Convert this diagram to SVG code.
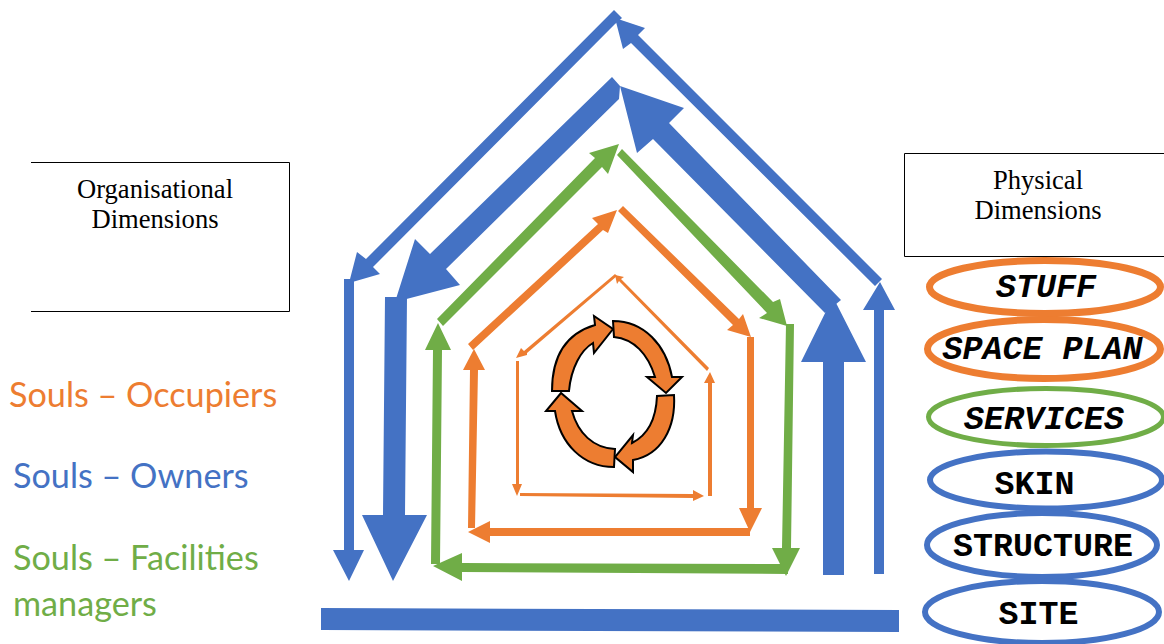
<svg xmlns="http://www.w3.org/2000/svg" width="1164" height="644" viewBox="0 0 1164 644">
<style>
.o{fill:#ed7d31}.b{fill:#4472c4}.g{fill:#70ad47}
.e{fill:none}
.t{font-family:"Liberation Serif",serif;font-size:26.6px;fill:#000;text-anchor:middle}
.m{font-family:"Liberation Mono",monospace;font-size:33.3px;font-weight:bold;fill:#000;text-anchor:middle}
.s{font-family:Lato,"Open Sans",sans-serif;font-size:34.2px}
.box{fill:none;stroke:#000;stroke-width:1}
.ring{fill:#ed7d31;stroke:#000;stroke-width:2}
</style>
<g id="connectors">
<!-- outer blue -->
<polygon class="b" points="614,10 622,18 615,24 373,267 380,274 349,283 357,252 366,259"/>
<polygon class="b" points="615,18 645,28 638,35 882,279 875,286 631,43 623,49"/>
<polygon class="b" points="344,279 354,279 354,550 364,550 349,581 333,550 344,550"/>
<polygon class="b" points="880,282 895,310 884,310 884,574 874,574 874,310 863,310"/>
<!-- thick blue -->
<polygon class="b" points="612,77 620,86 619,99 446,269 460,285 395,302 415,239 430,254"/>
<polygon class="b" points="620,86 684,108 669,123 841,300 825,313 653,139 637,153"/>
<polygon class="b" points="385,297 407,297 405,515 427,515 393,581 362,515 383,515"/>
<polygon class="b" points="833,297 866,362 844,362 844,575 823,575 823,362 801,362"/>
<!-- green -->
<polygon class="g" points="619,144 608,174 602,167 443,326 437,319 595,158 589,153"/>
<polygon class="g" points="622,149 773,302 780,299 787,326 759,318 767,313 617,155"/>
<polygon class="g" points="786,324 794,324 791,548 800,548 786,576 772,548 782,548"/>
<polygon class="g" points="438,323 451,350 442,350 440,564 431,564 433,350 425,350"/>
<polygon class="g" points="433,566 462,553 462,563 788,564 788,574 462,572 462,581"/>
<!-- orange mid -->
<polygon class="o" points="617,210 608,233 603,230 473,350 468,344 598,224 592,218"/>
<polygon class="o" points="623,206 739,319 743,314 751,337 727,330 733,325 618,211"/>
<polygon class="o" points="747,337 754,337 754,508 762,508 750,532 739,508 747,508"/>
<polygon class="o" points="474,349 485,370 478,370 475,528 468,528 470,370 463,370"/>
<polygon class="o" points="468,532 490,521 490,528 750,528 750,536 490,536 490,543"/>
<!-- orange thin -->
<polygon class="o" points="516,358 521,348 524,351 615,274 617,276 527,353 527,355"/>
<polygon class="o" points="615,275 624,277 621,279 709,368 707,371 619,281 617,284"/>
<polygon class="o" points="710,372 715,383 712,383 712,496 708,496 708,383 704,383"/>
<polygon class="o" points="516,361 519,361 519,484 522,484 517,496 512,484 516,484"/>
<polygon class="o" points="520,493 693,494 693,490 704,496 693,501 693,498 520,496"/>
<!-- base -->
<polygon class="b" points="321,608 899,610 899,632 321,630"/>
</g>
<g id="cycle">
<path class="ring" d="M552,391 C552,354 568,333 595,325 L594,316 L613,329 L594,353 L593,343 C581,350 571,368 569,391Z"/>
<path class="ring" d="M613,321 C644,321 666,345 672,377 L682,377 L666,393 L647,377 L655,377 C648,354 634,339 614,337Z"/>
<path class="ring" d="M674,395 C676,428 661,455 633,460 L633,472 L615,457 L633,435 L632,443 C648,435 656,420 657,396Z"/>
<path class="ring" d="M614,467 C583,467 560,444 555,411 L546,411 L561,393 L582,411 L572,411 C578,433 593,448 615,449Z"/>
</g>
<g id="org"><path class="box" d="M31,162.500H289.500V311.500H31"/>
<text class="t" x="155" y="198">Organisational</text><text class="t" x="155" y="228">Dimensions</text></g>
<g id="phys"><path class="box" d="M1164,153.500H904.500V256.500H1164"/>
<text class="t" x="1038" y="189">Physical</text><text class="t" x="1038" y="219">Dimensions</text></g>
<g id="stuff"><ellipse class="e" cx="1045" cy="287" rx="115.500" ry="26.500" stroke="#ed7d31" stroke-width="7"/><text class="m" x="1046" y="297" font-style="italic">STUFF</text></g>
<g id="spaceplan"><ellipse class="e" cx="1044" cy="349" rx="116.500" ry="29.500" stroke="#ed7d31" stroke-width="7"/><text class="m" x="1042.500" y="359" font-style="italic">SPACE PLAN</text></g>
<g id="services"><ellipse class="e" cx="1046" cy="417" rx="117.500" ry="28.500" stroke="#70ad47" stroke-width="5"/><text class="m" x="1044" y="429" font-style="italic">SERVICES</text></g>
<g id="skin"><ellipse class="e" cx="1046" cy="480" rx="116" ry="28.500" stroke="#4472c4" stroke-width="6"/><text class="m" x="1034.500" y="494">SKIN</text></g>
<g id="structure"><ellipse class="e" cx="1042" cy="545" rx="115" ry="32" stroke="#4472c4" stroke-width="6"/><text class="m" x="1043" y="556">STRUCTURE</text></g>
<g id="site"><ellipse class="e" cx="1042" cy="612" rx="117" ry="31" stroke="#4472c4" stroke-width="6"/><text class="m" x="1038.500" y="624">SITE</text></g>
<g id="legend">
<text class="s" x="9" y="407" fill="#ed7d31">Souls – Occupiers</text>
<text class="s" x="13" y="488" fill="#4472c4">Souls – Owners</text>
<text class="s" x="13" y="570" fill="#70ad47">Souls – Facilities</text>
<text class="s" x="13" y="616" fill="#70ad47">managers</text>
</g>
</svg>
